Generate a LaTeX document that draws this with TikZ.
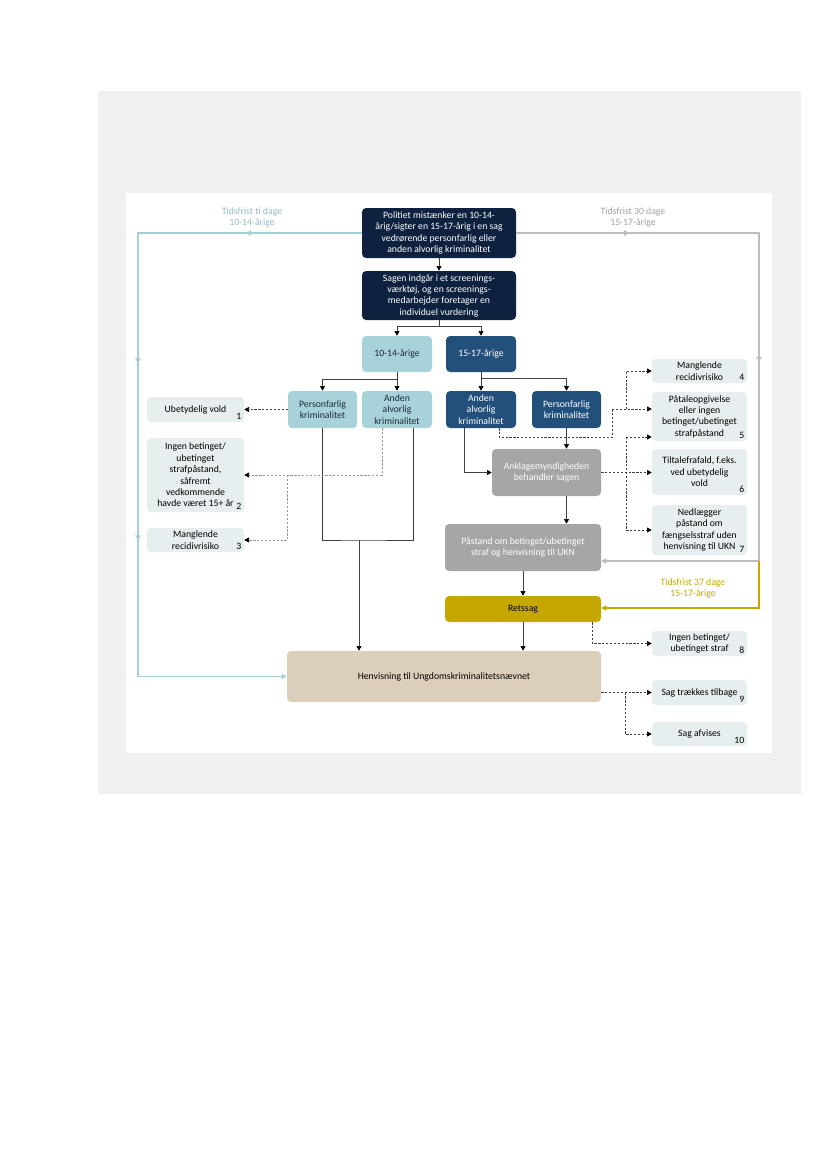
\documentclass[tikz,border=0pt]{standalone}
\usepackage{fontspec}
\setmainfont{Carlito}
\usetikzlibrary{arrows.meta,calc,decorations.markings}

\definecolor{navy}{HTML}{0E2240}
\definecolor{sea}{HTML}{23507A}
\definecolor{tealbox}{HTML}{A8D2DA}
\definecolor{stone}{HTML}{A6A6A6}
\definecolor{gold}{HTML}{C4A800}
\definecolor{sand}{HTML}{DBCFBC}
\definecolor{mist}{HTML}{E6EEF0}
\definecolor{paper}{HTML}{F0F0EE}
\definecolor{lineteal}{HTML}{A6D0D8}
\definecolor{linegrey}{HTML}{BDBDBD}
\definecolor{wire}{HTML}{404040}
\definecolor{textdark}{HTML}{1C2A38}

\tikzset{
  box/.style={rounded corners=3pt, align=center, inner sep=0pt,
    font=\fontsize{7}{8.2}\selectfont},
  sz/.style 2 args={minimum width=#1*0.72pt, minimum height=#2*0.72pt},
  dark/.style={box, fill=navy, text=white},
  young/.style={box, fill=tealbox, text=textdark},
  older/.style={box, fill=sea, text=white},
  stonebox/.style={box, fill=stone, text=white},
  goldbox/.style={box, fill=gold, text=black},
  sandbox/.style={box, fill=sand, text=black},
  outcome/.style={box, fill=mist, text=black},
  num/.style={anchor=south east, inner sep=2pt, font=\fontsize{7}{8.2}\selectfont},
  tip/.style={-{Triangle[length=3.4pt,width=3.6pt,color=black]}},
  wireline/.style={draw=wire, line width=0.5pt},
  arr/.style={wireline, tip},
  dsh/.style={wireline, dash pattern=on 1.6pt off 1.2pt, tip},
  dshl/.style={dsh, draw=wire!55},
  midtip/.style={postaction={decorate,decoration={markings,
    mark=at position #1 with {\arrow{Triangle[length=3.6pt,width=3.8pt]}}}}},
  frist/.style={line width=0.8pt, -{Triangle[length=3.6pt,width=3.8pt]}},
  fristlbl/.style={align=center, inner sep=0pt, font=\fontsize{7}{8.2}\selectfont}
}

\begin{document}
\begin{tikzpicture}[x=0.72pt,y=-0.72pt]
\useasboundingbox (0,0) rectangle (827,1169);
\fill[white] (0,0) rectangle (827,1169);
\fill[paper] (98,91) rectangle (801,794);
\fill[white] (126,193) rectangle (772,753);

% hovedforloeb
\node[dark, sz={154}{50}] (top) at (439,233) {Politiet mistænker en 10-14-\\årig/sigter en 15-17-årig i en sag\\vedrørende personfarlig eller\\anden alvorlig kriminalitet};
\node[dark, sz={154}{49}] (screen) at (439,295.5) {Sagen indgår i et screenings-\\værktøj, og en screenings-\\medarbejder foretager en\\individuel vurdering};
\node[young, sz={70}{36}] (yng) at (397,354) {10-14-årige};
\node[older, sz={70}{36}] (old) at (481,354) {15-17-årige};
\node[young, sz={69}{37}] (pfA) at (322.5,409.5) {Personfarlig\\kriminalitet};
\node[young, sz={70}{37}] (aaA) at (397,409.5) {Anden\\alvorlig\\kriminalitet};
\node[older, sz={70}{37}] (aaB) at (481,409.5) {Anden\\alvorlig\\kriminalitet};
\node[older, sz={69}{37}] (pfB) at (566.5,409.5) {Personfarlig\\kriminalitet};
\node[stonebox, sz={109}{47}] (ankl) at (546.5,472.5) {Anklagemyndigheden\\behandler sagen};
\node[stonebox, sz={156}{47}] (paast) at (523,547.5) {Påstand om betinget/ubetinget\\straf og henvisning til UKN};
\node[goldbox, sz={156}{26}] (rets) at (523,609) {Retssag};
\node[sandbox, sz={314}{51}] (henv) at (444,676.5) {Henvisning til Ungdomskriminalitetsnævnet};

% udfald
\node[outcome, sz={97}{25}, label={[num]south east:1}] (o1) at (195.5,409.5) {Ubetydelig vold};
\node[outcome, sz={97}{74}, label={[num]south east:2}] (o2) at (195.5,475) {Ingen betinget/\\ubetinget\\strafpåstand,\\såfremt\\vedkommende\\havde været 15+ år\hspace{6pt}};
\node[outcome, sz={97}{24}, label={[num]south east:3}] (o3) at (195.5,540) {Manglende\\recidivrisiko};
\node[outcome, sz={95}{24}, label={[num]south east:4}] (o4) at (699.5,371) {Manglende\\recidivrisiko};
\node[outcome, sz={95}{49}, label={[num]south east:5}] (o5) at (699.5,416.5) {Påtaleopgivelse\\eller ingen\\betinget/ubetinget\\strafpåstand};
\node[outcome, sz={95}{46}, label={[num]south east:6}] (o6) at (699.5,472) {Tiltalefrafald, f.eks.\\ved ubetydelig\\vold};
\node[outcome, sz={95}{50}, label={[num]south east:7}] (o7) at (699.5,530) {Nedlægger\\påstand om\\fængselsstraf uden\\henvisning til UKN};
\node[outcome, sz={95}{25}, label={[num]south east:8}] (o8) at (699.5,643.5) {Ingen betinget/\\ubetinget straf};
\node[outcome, sz={95}{25}, label={[num]south east:9}] (o9) at (699.5,692.5) {Sag trækkes tilbage};
\node[outcome, sz={95}{24}, label={[num]south east:10}] (o10) at (699.5,734) {Sag afvises};

% pile
\draw[arr] (top) -- (screen);
\draw[arr] (screen.south) -- ++(0,6) -| (yng.north);
\draw[arr] (screen.south) -- ++(0,6) -| (old.north);
\draw[arr] (yng.south) -- ++(0,7) -| (pfA.north);
\draw[arr] (yng) -- (aaA);
\draw[arr] (old.south) -- ++(0,6) -| (pfB.north);
\draw[arr] (old) -- (aaB);

\coordinate (jA) at (359,540);
\draw[wireline] (pfA.south) |- (jA) -| ($(aaA.south)+(16,0)$);
\draw[arr] (jA) -- (jA |- henv.north);

\draw[arr] ($(aaB.south)+(-17,0)$) |- (ankl.west);
\draw[arr] (pfB) -- (pfB |- ankl.north);
\draw[arr] (ankl.south -| pfB) -- (pfB |- paast.north);
\draw[arr] (paast) -- (rets);
\draw[arr] (rets.south) -- (rets.south |- henv.north);

% stiplede
\draw[dsh] (pfA) -- (o1);
\draw[dshl] ($(aaA.south)+(-15,0)$) |- (o2.east);
\draw[dshl] (pfA.west |- o2.east) |- (o3.east);

\coordinate (k1) at (612,409);
\coordinate (k2) at (626,409);
\coordinate (k3) at (626,437);
\draw[dsh,-] ($(aaB.south)+(18,0)$) -- ++(0,9) -| (k1);
\draw[dsh] (k1) -- (k1 -| o5.west);
\draw[dsh] (k2) |- (o4.west);
\draw[dsh] (ankl.east) -- (ankl.east -| o6.west);
\draw[dsh] (k3) -- (k3 -| o5.west);
\draw[dsh] (k3) |- (o7.west);

\draw[dsh] ($(rets.south east)+(-9,0)$) |- (o8.west);
\coordinate (k4) at (625,692.5);
\draw[dsh] (henv.east |- o9.west) -- (o9.west);
\draw[dsh] (k4) |- (o10.west);

% frister
\coordinate (lc) at (138,676.5);
\coordinate (rc) at (759,561);
\coordinate (gc) at (759,608);
\draw[frist, lineteal, midtip=0.142, midtip=0.434, midtip=0.651] (top.west) -| (lc) -- (henv.west);
\draw[frist, linegrey, midtip=0.155, midtip=0.51] (top.east) -| (rc) -- (rc -| paast.east);
\draw[frist, gold] (rc) -- (gc) -- (gc -| rets.east);

\node[fristlbl, text=lineteal!90!black] (fA) at (252,217.5) {Tidsfrist ti dage\\10-14-årige};
\node[fristlbl, text=linegrey!85!black] (fB) at (633,217.5) {Tidsfrist 30 dage\\15-17-årige};
\node[fristlbl, text=gold] (fC) at (693,588.5) {Tidsfrist 37 dage\\15-17-årige};
\end{tikzpicture}
\end{document}
